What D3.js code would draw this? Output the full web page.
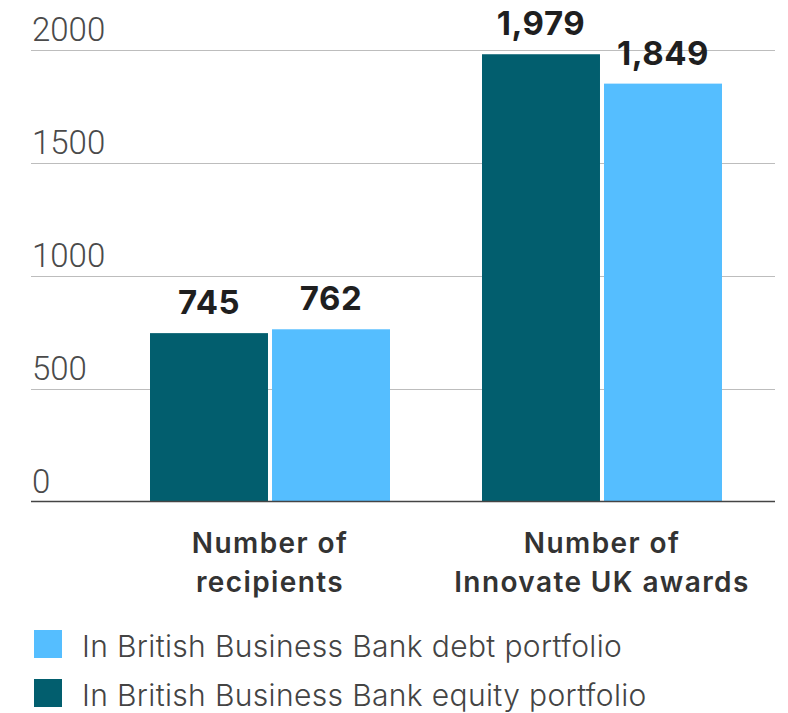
<!DOCTYPE html>
<html>
<head>
<meta charset="utf-8">
<script src="https://cdn.jsdelivr.net/npm/d3@7"></script>
<style>
  html, body { margin: 0; padding: 0; background: #fff; }
  svg { display: block; font-family: Roboto, "Noto Sans", sans-serif; }
</style>
</head>
<body>
<svg id="chart" width="788" height="713"></svg>
<script>
// Categories (two text lines each) and the two portfolio series
const categories = ["recipients", "awards"];
const categoryLines = [["Number of", "recipients"], ["Number of", "Innovate UK awards"]];
const seriesKeys = ["equity", "debt"];
const seriesNames = ["In British Business Bank equity portfolio", "In British Business Bank debt portfolio"];
const equityValues = [745, 1979];
const debtValues = [762, 1849];
const yTicks = [0, 500, 1000, 1500, 2000];

const colors = { equity: "#025e6e", debt: "#55beff" };
const labelFont = "Inter, Roboto, sans-serif";

const svg = d3.select("#chart");

const plot = { left: 31, right: 775, top: 49.5, bottom: 501.5 };

const y = d3.scaleLinear().domain([0, 2000]).range([plot.bottom, plot.top]);
const x0 = d3.scaleBand().domain(categories).range([150, 722]).paddingInner(0.2771).paddingOuter(0);
const x1 = d3.scaleBand().domain(seriesKeys).range([0, x0.bandwidth()]).paddingInner(0.033);

// Horizontal gridlines with labels sitting above them
const grid = svg.append("g");
grid.selectAll("line.grid")
  .data(yTicks.filter(d => d > 0))
  .join("line")
  .attr("x1", plot.left).attr("x2", plot.right)
  .attr("y1", d => Math.round(y(d)) + 0.5).attr("y2", d => Math.round(y(d)) + 0.5)
  .attr("stroke", "#bdbdbd").attr("stroke-width", 1.2);

grid.selectAll("text")
  .data(yTicks)
  .join("text")
  .attr("x", 32)
  .attr("y", d => y(d) - 9)
  .attr("font-size", 33)
  .attr("font-weight", 300)
  .attr("fill", "#4a4a4a")
  .text(d => d);

const rows = categories.map((c, i) => ({ cat: c, equity: equityValues[i], debt: debtValues[i] }));

const groups = svg.append("g").selectAll("g")
  .data(rows)
  .join("g")
  .attr("transform", d => `translate(${x0(d.cat)},0)`);

groups.selectAll("rect")
  .data(d => seriesKeys.map(k => ({ key: k, value: d[k] })))
  .join("rect")
  .attr("x", d => x1(d.key))
  .attr("width", x1.bandwidth())
  .attr("y", d => y(d.value))
  .attr("height", d => y(0) - y(d.value))
  .attr("fill", d => colors[d.key]);

groups.selectAll("text.value")
  .data(d => seriesKeys.map(k => ({ key: k, value: d[k] })))
  .join("text")
  .attr("class", "value")
  .attr("x", d => x1(d.key) + x1.bandwidth() / 2)
  .attr("y", d => y(d.value) - 19)
  .attr("text-anchor", "middle")
  .attr("font-family", labelFont)
  .attr("font-size", 33)
  .attr("font-weight", 700)
  .attr("letter-spacing", 0.5)
  .attr("fill", "#1f1f1f")
  .text(d => d3.format(",")(d.value));

// Baseline
svg.append("line")
  .attr("x1", plot.left).attr("x2", plot.right)
  .attr("y1", y(0)).attr("y2", y(0))
  .attr("stroke", "#444").attr("stroke-width", 1.5);

// Category labels
const catLabels = svg.append("g").selectAll("text")
  .data(categories)
  .join("text")
  .attr("x", d => x0(d) + x0.bandwidth() / 2)
  .attr("y", 553)
  .attr("text-anchor", "middle")
  .attr("font-family", labelFont)
  .attr("font-size", 28)
  .attr("font-weight", 600)
  .attr("letter-spacing", 1.4)
  .attr("fill", "#333");
catLabels.each(function(d, i) {
  const t = d3.select(this);
  categoryLines[i].forEach((line, j) => {
    t.append("tspan")
      .attr("x", x0(d) + x0.bandwidth() / 2)
      .attr("dy", j === 0 ? 0 : 39)
      .text(line);
  });
});

// Legend: debt first, then equity
const legendOrder = ["debt", "equity"];
const legend = svg.append("g").selectAll("g")
  .data(legendOrder)
  .join("g")
  .attr("transform", (d, i) => `translate(34,${630 + i * 49})`);
legend.append("rect")
  .attr("width", 28).attr("height", 28)
  .attr("fill", d => colors[d]);
legend.append("text")
  .attr("x", 48)
  .attr("y", 27)
  .attr("font-family", labelFont)
  .attr("font-size", 30)
  .attr("font-weight", 300)
  .attr("letter-spacing", 0.35)
  .attr("fill", "#444")
  .text(d => seriesNames[seriesKeys.indexOf(d)]);
</script>
</body>
</html>
